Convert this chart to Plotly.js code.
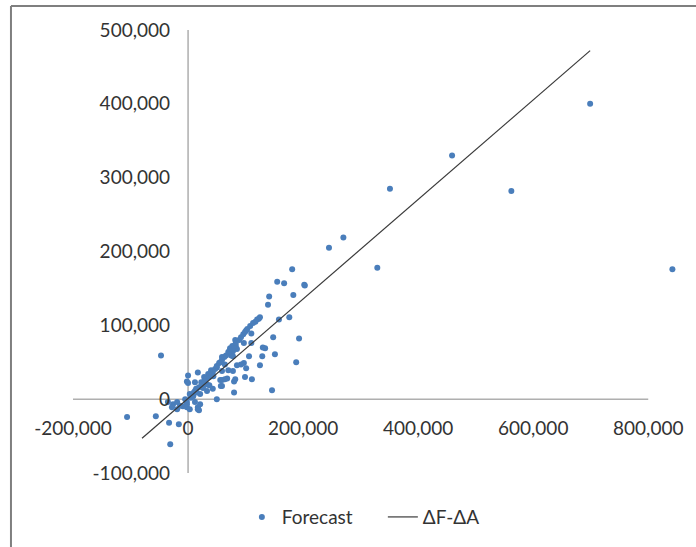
<!DOCTYPE html>
<html>
<head>
<meta charset="utf-8">
<script src="https://cdn.plot.ly/plotly-3.0.1.min.js"></script>
<style>html,body{margin:0;padding:0;background:#fff;}#chart{width:696px;height:547px;}</style>
</head>
<body>
<div id="chart"></div>
<script>
// Forecast points: x and y values (in units)
const forecastX = [842000,699000,562000,459000,351000,329000,245000,270000,181000,155000,167000,202000,203000,141000,183000,139000,120000,123000,125000,158000,176000,101000,110000,148000,193000,82000,97000,110000,134000,77000,83000,73000,85000,70000,75000,78000,78000,59000,106000,129000,151000,188000,97000,92000,85000,125000,64000,101000,59000,70000,78000,99000,111000,68000,80000,59000,80000,146000,59000,130000,56000,50000,40000,43000,35000,17000,28000,23000,12000,0,-2000,64000,56000,57000,82000,37000,43000,33000,12000,3000,21000,50000,-2000,-5000,17000,21000,-9000,-2000,-47000,-35000,-26000,-19000,-14000,-28000,-19000,-2000,3000,17000,19000,12000,-106000,-56000,-33000,-16000,-31000,0,7000,10000,14000,19000,24000,28000,31000,37000,40000,47000,50000,54000,59000,63000,66000,71000,75000,80000,83000,89000,92000,96000,99000,103000,108000,113000,117000,5000,9000,15000,26000,33000,44000];
const forecastY = [176000,400000,282000,330000,285000,178000,205000,219000,176000,159000,157000,155000,154000,139000,141000,128000,108000,109000,111000,108000,111000,93000,89000,84000,82000,80000,76000,76000,69000,72000,72000,69000,68000,64000,59000,65000,58000,57000,58000,58000,61000,50000,49000,47000,46000,46000,47000,42000,38000,39000,38000,30000,27000,28000,24000,18000,9000,12000,26000,70000,50000,43000,39000,36000,34000,36000,30000,23000,23000,32000,24000,27000,26000,18000,27000,19000,14000,11000,11000,7000,7000,0,-4000,0,-11000,-7000,-9500,-11000,59000,-4000,-7000,-4000,-9000,-11000,-13500,-7000,-13500,-13500,-15000,-4000,-24000,-23000,-32000,-34000,-61000,22000,5000,9000,14000,16000,20000,24000,27000,30000,32000,41000,45000,49000,53000,57000,59000,64000,68000,72000,76000,80000,84000,88000,91000,95000,99000,103000,105000,2000,4000,9000,15000,20000,31000];
// ΔF-ΔA reference line end points
const lineX = [-80000, 699000];
const lineY = [-53000, 472000];
// Axis ticks
const xTickVals = [-200000, 0, 200000, 400000, 600000, 800000];
const xTickText = ["-200,000", "0", "200,000", "400,000", "600,000", "800,000"];
const yTickVals = [-100000, 0, 100000, 200000, 300000, 400000, 500000];
const yTickText = ["-100,000", "0", "100,000", "200,000", "300,000", "400,000", "500,000"];
const xAxisMin = -200000, xAxisMax = 800000, yAxisMin = -100000, yAxisMax = 500000;

const traces = [
  {
    type: 'scatter', mode: 'markers', name: 'Forecast',
    x: forecastX, y: forecastY, cliponaxis: false,
    marker: {color: '#4a7ebb', size: 6}
  },
  {
    type: 'scatter', mode: 'lines', name: 'ΔF-ΔA',
    x: lineX, y: lineY,
    line: {color: '#3a3a3a', width: 1.2}
  }
];

const tickFont = {family: 'Lato, "Open Sans", sans-serif', size: 19, color: '#333333'};
const axisLine = {color: '#868686', width: 1};

const layout = {
  width: 696, height: 547,
  margin: {l: 73, r: 19.25, t: 30, b: 73},
  paper_bgcolor: '#ffffff', plot_bgcolor: '#ffffff',
  font: tickFont,
  showlegend: true,
  legend: {orientation: 'h', x: 0.513, xanchor: 'center', y: -0.097, yanchor: 'middle',
           entrywidth: 96, entrywidthmode: 'pixels',
           font: tickFont, bgcolor: 'rgba(0,0,0,0)'},
  xaxis: {
    range: [-200000, 850000], anchor: 'free', position: 1/6,
    showgrid: false, zeroline: false, showline: false,
    ticks: '', tickvals: xTickVals, ticktext: xTickText, tickfont: tickFont,
    ticklabelstandoff: 16
  },
  yaxis: {
    range: [yAxisMin, yAxisMax], anchor: 'free', position: 200000 / 1050000,
    showgrid: false, zeroline: false, showline: false,
    ticks: '', tickvals: yTickVals, ticktext: yTickText, tickfont: tickFont,
    ticklabelstandoff: 18
  },
  shapes: [
    {type: 'line', xref: 'x', yref: 'y', x0: xAxisMin, x1: xAxisMax, y0: 0, y1: 0, line: axisLine, layer: 'below'},
    {type: 'line', xref: 'x', yref: 'y', x0: 0, x1: 0, y0: yAxisMin, y1: yAxisMax, line: axisLine, layer: 'below'},
    {type: 'line', xref: 'paper', yref: 'paper', x0: -0.1027, x1: 1.3, y0: 1.054, y1: 1.054,
     line: {color: '#7f7f7f', width: 2}},
    {type: 'line', xref: 'paper', yref: 'paper', x0: -0.1027, x1: -0.1027, y0: 1.054, y1: -0.3,
     line: {color: '#7f7f7f', width: 2}}
  ]
};

Plotly.newPlot('chart', traces, layout, {staticPlot: true, displayModeBar: false});
</script>
</body>
</html>
